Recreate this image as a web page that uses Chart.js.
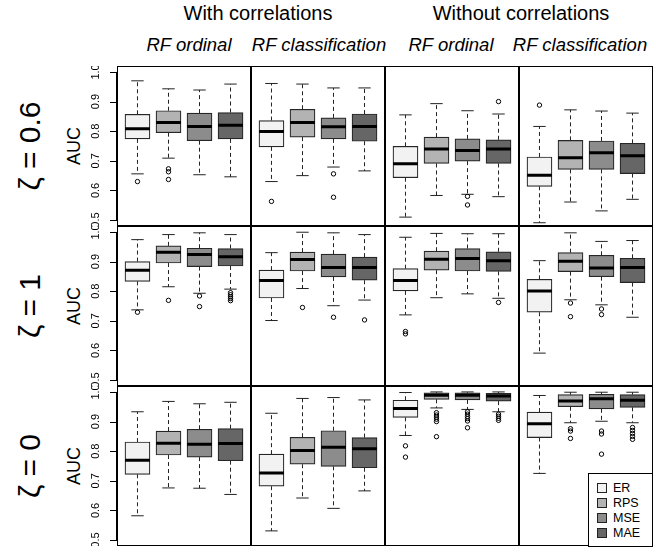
<!DOCTYPE html>
<html><head><meta charset="utf-8">
<script src="https://cdn.jsdelivr.net/npm/chart.js@4.4.0/dist/chart.umd.min.js"></script>
<style>
body{margin:0;background:#fff;}
#wrap{position:relative;width:656px;height:556px;font-family:"Liberation Sans",Arial,sans-serif;color:#000;overflow:hidden;background:#fff;}
canvas{position:absolute;}
.t{position:absolute;white-space:nowrap;transform:translate(-50%,-50%);line-height:1;}
.r{transform:translate(-50%,-50%) rotate(-90deg);}
.lg{position:absolute;left:588px;top:473px;width:65px;height:74px;border:1px solid #000;background:#fff;box-sizing:border-box;}
.li{position:absolute;left:8px;font-size:12.5px;line-height:1;}
.li span{display:inline-block;width:8px;height:8px;border:1px solid #222;margin-right:6px;vertical-align:-1px;}
</style></head><body><div id="wrap"></div>
<script>
// ---- categories / labels ----
const groups = ['ER', 'RPS', 'MSE', 'MAE'];
const groupTitles = ['With correlations', 'Without correlations'];
const colTitles = ['RF ordinal', 'RF classification', 'RF ordinal', 'RF classification'];
const rowLabels = ['\u03B6 = 0.6', '\u03B6 = 1', '\u03B6 = 0'];
const yTicks = [0.5, 0.6, 0.7, 0.8, 0.9, 1.0];
const yTickLabels = ['0.5', '0.6', '0.7', '0.8', '0.9', '1.0'];

// ---- box statistics: [lower whisker, Q1, median, Q3, upper whisker] per group ----
// row zeta = 0.6
const s11 = [[0.656,0.774,0.808,0.857,0.970],[0.709,0.795,0.829,0.869,0.943],[0.653,0.768,0.816,0.861,0.939],[0.646,0.774,0.820,0.863,0.959]];
const o11 = [[0.630],[0.673,0.663,0.637],[],[]];
const s12 = [[0.630,0.747,0.799,0.836,0.961],[0.650,0.780,0.829,0.874,0.959],[0.679,0.774,0.815,0.845,0.946],[0.666,0.766,0.816,0.858,0.946]];
const o12 = [[0.563],[],[0.656,0.577],[]];
const s13 = [[0.510,0.643,0.690,0.749,0.855],[0.583,0.691,0.740,0.780,0.893],[0.587,0.699,0.735,0.774,0.869],[0.579,0.691,0.740,0.771,0.858]];
const o13 = [[],[],[0.580,0.551],[0.900]];
const s14 = [[0.491,0.614,0.651,0.713,0.816],[0.561,0.671,0.710,0.769,0.872],[0.531,0.671,0.727,0.767,0.868],[0.570,0.657,0.717,0.759,0.861]];
const o14 = [[0.888],[],[],[]];
// row zeta = 1
const s21 = [[0.737,0.833,0.871,0.900,0.974],[0.815,0.895,0.931,0.953,0.991],[0.793,0.883,0.924,0.945,0.997],[0.807,0.885,0.916,0.944,0.991]];
const o21 = [[0.729],[0.769],[0.784,0.748],[0.795,0.788,0.781,0.775,0.768]];
const s22 = [[0.701,0.777,0.836,0.871,0.930],[0.809,0.868,0.907,0.932,0.999],[0.751,0.848,0.880,0.925,0.997],[0.770,0.837,0.880,0.915,0.991]];
const o22 = [[],[0.745],[0.712],[0.703]];
const s23 = [[0.720,0.801,0.836,0.876,0.982],[0.778,0.871,0.908,0.935,0.995],[0.791,0.868,0.910,0.944,0.994],[0.776,0.867,0.903,0.933,0.994]];
const o23 = [[0.664,0.656],[],[],[0.762]];
const s24 = [[0.591,0.729,0.801,0.840,0.903],[0.771,0.866,0.901,0.930,0.997],[0.754,0.849,0.878,0.921,0.968],[0.712,0.829,0.880,0.911,0.971]];
const o24 = [[],[0.760,0.714],[0.740,0.721],[]];
// row zeta = 0
const s31 = [[0.582,0.722,0.769,0.831,0.933],[0.676,0.787,0.827,0.868,0.968],[0.675,0.780,0.823,0.874,0.960],[0.654,0.768,0.826,0.876,0.965]];
const o31 = [[],[],[],[]];
const s32 = [[0.531,0.682,0.726,0.790,0.928],[0.642,0.756,0.802,0.847,0.978],[0.607,0.749,0.813,0.869,0.981],[0.666,0.744,0.808,0.846,0.973]];
const o32 = [[],[],[],[]];
const s33 = [[0.853,0.914,0.944,0.972,0.998],[0.946,0.975,0.989,0.997,1.000],[0.941,0.973,0.989,0.997,1.000],[0.933,0.969,0.986,0.995,1.000]];
const o33 = [[0.818,0.780],[0.930,0.922,0.915,0.908,0.900,0.849],[0.933,0.925,0.917,0.910,0.902,0.879],[0.925,0.918,0.911,0.904]];
const s34 = [[0.725,0.846,0.893,0.932,0.988],[0.896,0.950,0.969,0.991,0.999],[0.901,0.943,0.977,0.992,0.999],[0.896,0.948,0.972,0.991,0.999]];
const o34 = [[],[0.876,0.868,0.843],[0.868,0.858,0.790],[0.880,0.870,0.860,0.850,0.840]];

const statGrid = [[s11,s12,s13,s14],[s21,s22,s23,s24],[s31,s32,s33,s34]];
const outGrid = [[o11,o12,o13,o14],[o21,o22,o23,o24],[o31,o32,o33,o34]];

// ---- styling / layout ----
const fills = ['#f2f2f2', '#b3b3b3', '#8c8c8c', '#666666'];
const colX = [117, 251, 385, 519];
const rowY = [66, 226, 386];
const PW = 134, PH = 160, AXIS = 33;

const wrap = document.getElementById('wrap');
function addText(txt, x, y, css, rot) {
  const d = document.createElement('div');
  d.className = 't' + (rot ? ' r' : '');
  d.textContent = txt;
  d.style.left = x + 'px'; d.style.top = y + 'px';
  d.style.cssText += css;
  wrap.appendChild(d);
}

const framePlugin = {
  id: 'frame',
  afterDraw(chart, args, opts) {
    const ctx = chart.ctx, a = chart.chartArea;
    ctx.save();
    ctx.strokeStyle = '#000'; ctx.lineWidth = 1;
    ctx.strokeRect(a.left + 0.5, a.top + 0.5, a.right - a.left - 1, a.bottom - a.top - 1);
    if (opts.ticks) {
      const y = chart.scales.y;
      ctx.font = '11px "Liberation Sans", Arial, sans-serif';
      ctx.fillStyle = '#000';
      ctx.textAlign = 'center'; ctx.textBaseline = 'middle';
      ctx.beginPath();
      ctx.moveTo(a.left - 0.5, y.getPixelForValue(yTicks[0]));
      ctx.lineTo(a.left - 0.5, y.getPixelForValue(yTicks[yTicks.length - 1]));
      yTicks.forEach((v, i) => {
        const py = Math.round(y.getPixelForValue(v)) + 0.5;
        ctx.moveTo(a.left - 7, py); ctx.lineTo(a.left, py);
      });
      ctx.stroke();
      yTicks.forEach((v, i) => {
        const py = y.getPixelForValue(v);
        ctx.save();
        ctx.translate(a.left - 21, py);
        ctx.rotate(-Math.PI / 2);
        ctx.fillText(yTickLabels[i], 0, 0);
        ctx.restore();
      });
    }
    ctx.restore();
  }
};

function makePanel(r, c) {
  const stats = statGrid[r][c], outs = outGrid[r][c];
  const cv = document.createElement('canvas');
  const left = c === 0 ? colX[c] - AXIS : colX[c];
  const w = c === 0 ? PW + AXIS : PW;
  cv.width = w; cv.height = PH;
  cv.style.left = left + 'px'; cv.style.top = rowY[r] + 'px';
  cv.style.width = w + 'px'; cv.style.height = PH + 'px';
  wrap.appendChild(cv);

  const boxes = stats.map((s, i) => ({ x: i + 1, y: [s[1], s[3]] }));
  const medians = stats.flatMap((s, i) => [{ x: i + 0.6, y: s[2] }, { x: i + 1.4, y: s[2] }, { x: i + 1.5, y: null }]);
  const whiskers = stats.flatMap((s, i) => [
    { x: i + 1, y: s[3] }, { x: i + 1, y: s[4] }, { x: i + 1, y: null },
    { x: i + 1, y: s[1] }, { x: i + 1, y: s[0] }, { x: i + 1, y: null }]);
  const caps = stats.flatMap((s, i) => [
    { x: i + 0.8, y: s[4] }, { x: i + 1.2, y: s[4] }, { x: i + 1, y: null },
    { x: i + 0.8, y: s[0] }, { x: i + 1.2, y: s[0] }, { x: i + 1, y: null }]);
  const pts = outs.flatMap((o, i) => o.map(v => ({ x: i + 1, y: v })));

  new Chart(cv, {
    type: 'bar',
    data: {
      datasets: [
        { type: 'line', data: medians, borderColor: '#000', borderWidth: 3, pointRadius: 0, spanGaps: false, borderCapStyle: 'butt', order: 0 },
        { type: 'bar', data: boxes, backgroundColor: fills, borderColor: '#262626', borderWidth: 1.2, borderSkipped: false, barThickness: 25, order: 1 },
        { type: 'scatter', data: pts, pointRadius: 2.2, pointBackgroundColor: 'rgba(0,0,0,0)', pointBorderColor: '#000', pointBorderWidth: 1, order: 2 },
        { type: 'line', data: whiskers, borderColor: '#222', borderWidth: 1, borderDash: [4, 3], pointRadius: 0, spanGaps: false, order: 3 },
        { type: 'line', data: caps, borderColor: '#222', borderWidth: 1, pointRadius: 0, spanGaps: false, order: 3 }
      ]
    },
    options: {
      responsive: false, animation: false, events: [],
      layout: { autoPadding: false, padding: { left: c === 0 ? AXIS : 0, right: 0, top: 0, bottom: 0 } },
      scales: {
        x: { type: 'linear', min: 0.34, max: 4.66, offset: false, display: false },
        y: { type: 'linear', min: 0.48, max: 1.02, display: false }
      },
      plugins: { legend: { display: false }, tooltip: { enabled: false }, frame: { ticks: c === 0 } }
    },
    plugins: [framePlugin]
  });
}

for (let r = 0; r < 3; r++) for (let c = 0; c < 4; c++) makePanel(r, c);

// titles
addText(groupTitles[0], 258, 13, 'font-size:20px;');
addText(groupTitles[1], 521, 13, 'font-size:20px;');
const subX = [189, 319, 451, 580];
colTitles.forEach((t, i) => addText(t, subX[i], 45, 'font-size:18.5px;font-style:italic;'));
rowLabels.forEach((t, r) => {
  const cy = rowY[r] + PH / 2;
  addText('AUC', 74, cy, 'font-size:18px;', true);
  addText(t, 30, cy, 'font-size:30px;', true);
});

// legend
const lg = document.createElement('div'); lg.className = 'lg'; wrap.appendChild(lg);
groups.forEach((g, i) => {
  const it = document.createElement('div'); it.className = 'li';
  it.style.top = (8 + i * 15) + 'px';
  const sw = document.createElement('span'); sw.style.background = fills[i];
  it.appendChild(sw); it.appendChild(document.createTextNode(g));
  lg.appendChild(it);
});
</script></body></html>
